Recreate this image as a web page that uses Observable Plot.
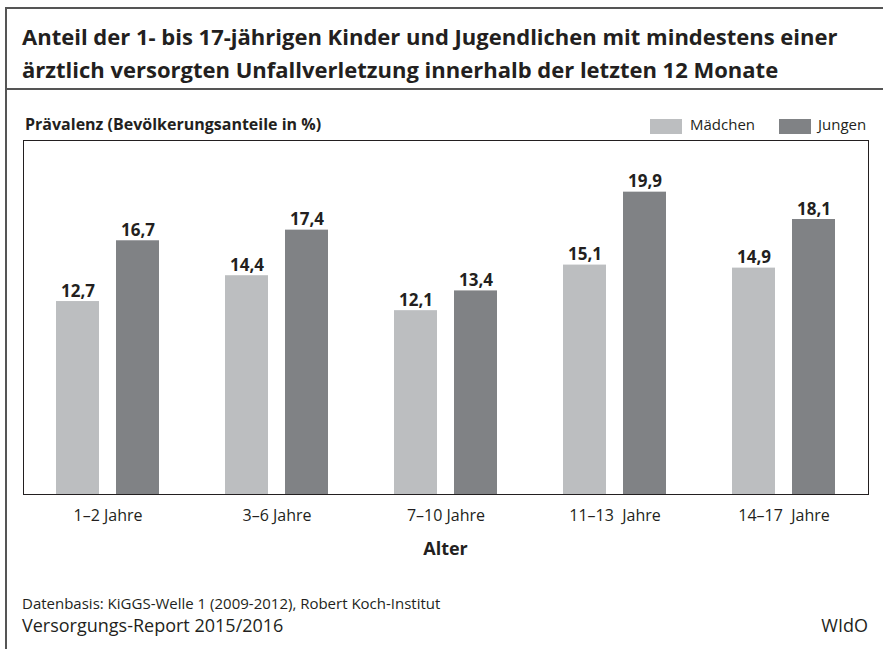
<!DOCTYPE html>
<html>
<head>
<meta charset="utf-8">
<script src="https://cdn.jsdelivr.net/npm/d3@7"></script>
<script src="https://cdn.jsdelivr.net/npm/@observablehq/plot@0.6"></script>
<style>
  html, body { margin: 0; padding: 0; background: #fff; }
  #wrap { position: relative; width: 883px; height: 649px; overflow: hidden; font-family: "Open Sans", sans-serif; color: #231f20; }
  .abs { position: absolute; line-height: 1; white-space: pre; }
  .hline { position: absolute; height: 2px; background: #555; }
  .vline { position: absolute; width: 2px; background: #555; }
  #chart { position: absolute; left: 0; top: 130px; }
  #chart svg text { white-space: pre; }
  .sw { position: absolute; width: 32px; height: 15px; }
</style>
</head>
<body>
<div id="wrap">
  <div class="hline" style="left:5px; top:7px; width:878px;"></div>
  <div class="vline" style="left:5px; top:7px; height:642px;"></div>
  <div class="hline" style="left:5px; top:88px; width:878px;"></div>
  <div class="abs" id="title1" style="left:22px; top:25px; font-size:22px; font-weight:700;"></div>
  <div class="abs" id="title2" style="left:22px; top:58px; font-size:22px; font-weight:700;"></div>
  <div class="abs" id="ylabel" style="left:25px; top:116px; font-size:16px; font-weight:700;"></div>
  <div id="legend"></div>
  <div id="chart"></div>
  <div class="abs" id="xlabel" style="left:0; width:891px; text-align:center; top:539px; font-size:18px; font-weight:700;"></div>
  <div class="abs" id="source" style="left:22px; top:596px; font-size:15px;"></div>
  <div class="abs" id="footerL" style="left:22px; top:616px; font-size:18px;"></div>
  <div class="abs" id="footerR" style="right:15px; top:616px; font-size:18px;"></div>
</div>
<script>
// ---- data ----
const titleLines = [
  "Anteil der 1- bis 17-jährigen Kinder und Jugendlichen mit mindestens einer",
  "ärztlich versorgten Unfallverletzung innerhalb der letzten 12 Monate"
];
const yLabel = "Prävalenz (Bevölkerungsanteile in %)";
const xLabel = "Alter";
const groups = ["1–2 Jahre", "3–6 Jahre", "7–10 Jahre", "11–13  Jahre", "14–17  Jahre"];
const sexes = ["Mädchen", "Jungen"];
const girls = [12.7, 14.4, 12.1, 15.1, 14.9];
const boys = [16.7, 17.4, 13.4, 19.9, 18.1];
const colors = ["#bcbec0", "#808285"];
const sourceText = "Datenbasis: KiGGS-Welle 1 (2009-2012), Robert Koch-Institut";
const footerLeft = "Versorgungs-Report 2015/2016";
const footerRight = "WIdO";

// ---- texts ----
document.getElementById("title1").textContent = titleLines[0];
document.getElementById("title2").textContent = titleLines[1];
document.getElementById("ylabel").textContent = yLabel;
document.getElementById("xlabel").textContent = xLabel;
document.getElementById("source").textContent = sourceText;
document.getElementById("footerL").textContent = footerLeft;
document.getElementById("footerR").textContent = footerRight;

// legend
const legend = document.getElementById("legend");
const legendPos = [{sw: 650, tx: 690}, {sw: 779, tx: 818}];
sexes.forEach((s, i) => {
  const sw = document.createElement("div");
  sw.className = "sw";
  sw.style.left = legendPos[i].sw + "px";
  sw.style.top = "119px";
  sw.style.background = colors[i];
  legend.appendChild(sw);
  const t = document.createElement("div");
  t.className = "abs";
  t.style.left = legendPos[i].tx + "px";
  t.style.top = "117px";
  t.style.fontSize = "15px";
  t.textContent = s;
  legend.appendChild(t);
});

// ---- rows ----
const rows = [];
groups.forEach((g, i) => {
  rows.push({group: g, sex: sexes[0], value: girls[i]});
  rows.push({group: g, sex: sexes[1], value: boys[i]});
});

const fmt = v => v.toFixed(1).replace(".", ",");

const chart = Plot.plot({
  width: 883,
  height: 444,
  marginLeft: 21,
  marginRight: 14,
  marginTop: 10,
  marginBottom: 80,
  style: {fontFamily: "Open Sans, sans-serif", fontSize: "16px", color: "#231f20", background: "transparent"},
  fx: {domain: groups, padding: 0, label: null, axis: "bottom", tickSize: 0, tickPadding: 15},
  x: {domain: sexes, axis: null, paddingInner: 0.29, paddingOuter: 0.55},
  y: {domain: [0, 23.3], axis: null},
  color: {domain: sexes, range: colors},
  marks: [
    Plot.barY(rows, {fx: "group", x: "sex", y: "value", fill: "sex"}),
    Plot.text(rows, {fx: "group", x: "sex", y: "value", text: d => fmt(d.value), lineAnchor: "bottom", dy: -5, fontWeight: "bold", fontSize: 17, fill: "#231f20"}),
    Plot.frame({facet: "super", stroke: "#231f20"})
  ]
});
document.getElementById("chart").appendChild(chart);
</script>
</body>
</html>
